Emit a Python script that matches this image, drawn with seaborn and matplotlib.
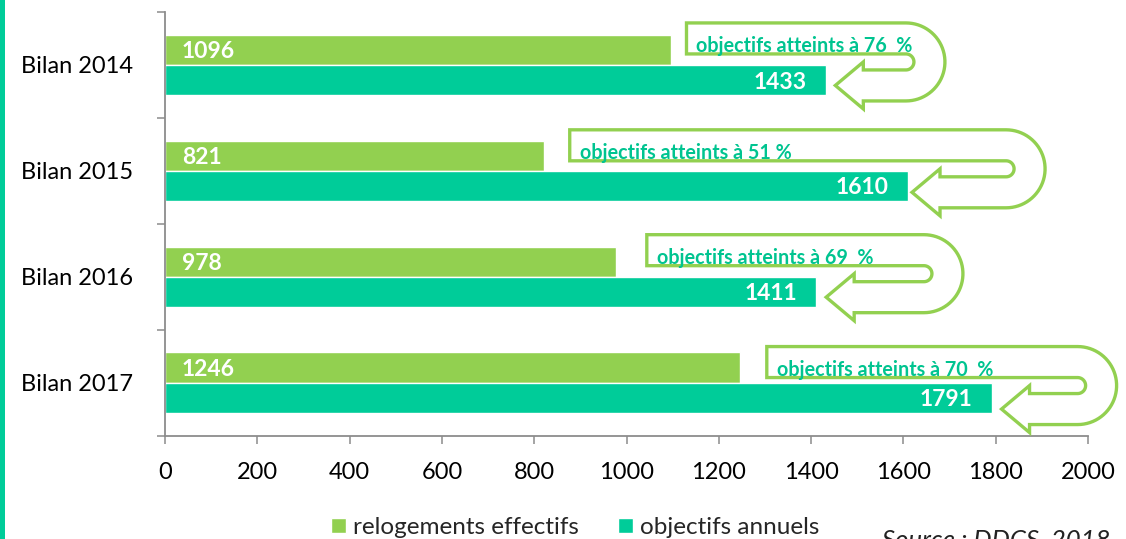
import numpy as np
import pandas as pd
import matplotlib
matplotlib.use("Agg")
import matplotlib.pyplot as plt
from matplotlib.path import Path
from matplotlib.patches import PathPatch, Rectangle
import seaborn as sns

# --- data -------------------------------------------------------------
bilans = ["Bilan 2014", "Bilan 2015", "Bilan 2016", "Bilan 2017"]
relogements = [1096, 821, 978, 1246]
objectifs = [1433, 1610, 1411, 1791]
series = ["relogements effectifs", "objectifs annuels"]
x_ticks = [0, 200, 400, 600, 800, 1000, 1200, 1400, 1600, 1800, 2000]
pct_sep = ["  ", " ", "  ", "  "]

# --- callout layout (x in data units, offsets in pixels) -------------
arrow_tail = [1130, 877, 1044, 1304]
arrow_right = [1690, 1907, 1729, 2062]
arrow_tip_gap = [9, 4, 10, 10]
arrow_shift = [0, 1, 0, 6]

GREEN = "#92D050"
TEAL = "#00CC99"
TEXT_TEAL = "#00C490"
SPINE = "#8C8C8C"

sns.set_theme(style="white")
plt.rcParams["font.family"] = ["Lato", "DejaVu Sans"]

W, H = 1126, 539
fig = plt.figure(figsize=(W / 100, H / 100), dpi=100)
ax = fig.add_axes([165 / W, (H - 435.5) / H, 923 / W, 423.5 / H])

df = pd.DataFrame({
    "bilan": bilans * 2,
    "valeur": relogements + objectifs,
    "serie": [series[0]] * len(bilans) + [series[1]] * len(bilans),
})

sns.barplot(data=df, x="valeur", y="bilan", hue="serie", orient="h",
            palette=[GREEN, TEAL], saturation=1, width=0.57, ax=ax,
            errorbar=None)

ax.set_xlim(0, 2000)
ax.set_ylim(3.5, -0.5)
ax.set_xlabel("")
ax.set_ylabel("")
ax.set_xticks(x_ticks)
ax.set_xticklabels([str(t) for t in x_ticks], fontsize=17, color="black")
ax.set_yticks(range(len(bilans)))
ax.set_yticklabels(bilans, fontsize=17, color="black")
ax.set_yticks(np.arange(-0.5, len(bilans)), minor=True)
ax.tick_params(axis="y", which="major", length=0, pad=23)
ax.tick_params(axis="y", which="minor", length=5.5, width=1.1, color=SPINE,
               direction="out", left=True)
ax.tick_params(axis="x", which="major", length=6, width=1.1, color=SPINE,
               direction="out", bottom=True, pad=13)
for side in ("top", "right"):
    ax.spines[side].set_visible(False)
for side in ("left", "bottom"):
    ax.spines[side].set_color(SPINE)
    ax.spines[side].set_linewidth(1.3)

# value labels inside the bars
cont_rel, cont_obj = ax.containers[0], ax.containers[1]
for bar, v in zip(cont_rel, relogements):
    ax.annotate(str(v), (0, bar.get_y() + bar.get_height() / 2),
                xytext=(12, 0), textcoords="offset points",
                ha="left", va="center_baseline", color="white",
                fontsize=16.5, fontweight="bold", zorder=5)
for bar, v in zip(cont_obj, objectifs):
    ax.annotate(str(v), (v, bar.get_y() + bar.get_height() / 2),
                xytext=(-14, 0), textcoords="offset points",
                ha="right", va="center_baseline", color="white",
                fontsize=16.5, fontweight="bold", zorder=5)

# U-turn callouts
pos = ax.get_position()
sx = 2000 / (pos.width * W)            # data units per pixel (x)
sy = 4 / (pos.height * H)              # category units per pixel (y)


def u_turn(yc, tail, tip, right):
    ro, ri, cy = 39, 8, -3            # radii and arc centre offset, pixels
    head_len, head_half = 28, 23.5
    cx = right - ro * sx
    tip_y = cy + (ri + ro) / 2
    shoulder = tip + head_len * sx
    pts = [(tail, cy - ro), (cx, cy - ro)]
    for t in np.linspace(-np.pi / 2, np.pi / 2, 40):
        pts.append((cx + ro * np.cos(t) * sx, cy + ro * np.sin(t)))
    pts += [(shoulder, cy + ro), (shoulder, tip_y + head_half), (tip, tip_y),
            (shoulder, tip_y - head_half), (shoulder, cy + ri), (cx, cy + ri)]
    for t in np.linspace(np.pi / 2, -np.pi / 2, 30):
        pts.append((cx + ri * np.cos(t) * sx, cy + ri * np.sin(t)))
    pts.append((tail, cy - ri))
    verts = [(x, yc + y * sy) for x, y in pts]
    verts.append(verts[0])
    codes = [Path.MOVETO] + [Path.LINETO] * (len(verts) - 2) + [Path.CLOSEPOLY]
    return Path(verts, codes)


for i, (r, o) in enumerate(zip(relogements, objectifs)):
    yc = i + arrow_shift[i] * sy
    tip = o + arrow_tip_gap[i] * sx
    patch = PathPatch(u_turn(yc, arrow_tail[i], tip, arrow_right[i]),
                      facecolor="white", edgecolor=GREEN, lw=2.4,
                      zorder=3, clip_on=False)
    ax.add_patch(patch)
    pct = round(100 * r / o)
    ax.text(arrow_tail[i] + 10 * sx, yc - 13 * sy,
            f"objectifs atteints à {pct}{pct_sep[i]}%",
            ha="left", va="baseline", color=TEXT_TEAL, fontsize=14.2,
            fontweight="bold", zorder=4, clip_on=False)

# legend below the axis
sns.move_legend(ax, "center", bbox_to_anchor=(0.511, 0.021),
                bbox_transform=fig.transFigure, ncol=2, frameon=False,
                title=None, fontsize=17.5, handlelength=0.6,
                handleheight=0.6, handletextpad=0.3, columnspacing=1.6)

# source note (runs off the bottom edge)
fig.text(882 / W, -8.5 / H, "Source : DDCS, 2018", ha="left", va="baseline",
         fontsize=18.5, fontstyle="italic", color="#222222")

# coloured stripe along the left edge
fig.patches.append(Rectangle((0, 0), 5 / W, 1, transform=fig.transFigure,
                             facecolor=TEAL, edgecolor="none", zorder=0))

fig.savefig("out.png", dpi=100)
